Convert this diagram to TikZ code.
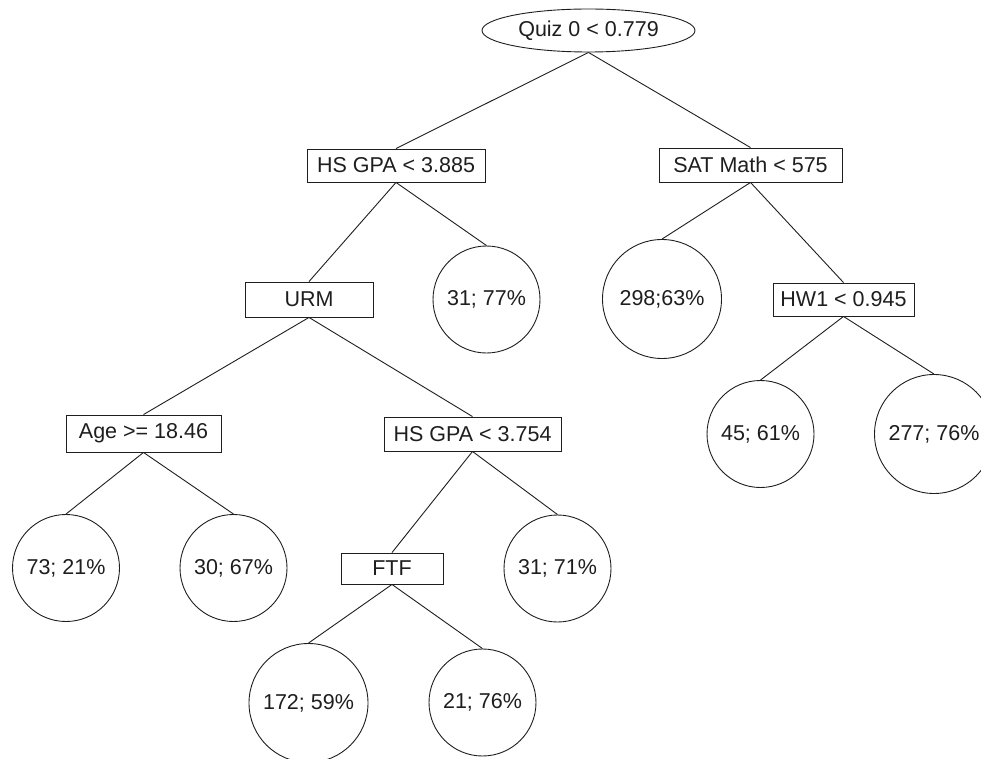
\documentclass[tikz,border=0pt]{standalone}
\usepackage{fontspec}
\setmainfont{Liberation Sans}
\usetikzlibrary{shapes.geometric}
\definecolor{ink}{RGB}{30,30,30}
\begin{document}
\begin{tikzpicture}[x=1pt,y=-1pt,
  every node/.style={font=\fontsize{21.5}{24}\selectfont, text=ink, inner sep=0pt},
  box/.style={draw=ink, line width=0.9pt, rectangle},
  leaf/.style={draw=ink, line width=0.9pt, circle, minimum size=107pt},
  bigleaf/.style={leaf, minimum size=119pt},
  edge/.style={draw=ink, line width=0.9pt}]
\useasboundingbox (0,0) rectangle (981,759);
\clip (0,0) rectangle (981,759);
\node[draw=ink, line width=0.9pt, ellipse, minimum width=213pt, minimum height=43pt] (root) at (588.5,30.5) {Quiz 0 < 0.779};
\node[box, minimum width=178pt, minimum height=33pt] (hs1) at (396,165.5) {HS GPA < 3.885};
\node[box, minimum width=183pt, minimum height=34pt] (sat) at (750.5,165) {SAT Math < 575};
\node[box, minimum width=128pt, minimum height=35pt] (urm) at (309,299.5) {URM};
\node[leaf] (l1) at (486.5,299.5) {31; 77\%};
\node[bigleaf] (l2) at (662,299) {298;63\%};
\node[box, minimum width=141pt, minimum height=33pt] (hw1) at (843.5,299.5) {HW1 < 0.945};
\node[box, minimum width=155pt, minimum height=37pt] (age) at (143.5,433.5) {Age >= 18.46};
\node[box, minimum width=177pt, minimum height=34pt] (hs2) at (472.5,434) {HS GPA < 3.754};
\node[leaf] (l3) at (760.5,434) {45; 61\%};
\node[bigleaf] (l4) at (934,434) {277; 76\%};
\node[leaf] (l5) at (66,568) {73; 21\%};
\node[leaf] (l6) at (233.5,568) {30; 67\%};
\node[box, minimum width=102pt, minimum height=31pt] (ftf) at (392,568.5) {FTF};
\node[leaf] (l7) at (557.5,568.5) {31; 71\%};
\node[bigleaf] (l8) at (308.5,703) {172; 59\%};
\node[leaf] (l9) at (482.5,702.5) {21; 76\%};
\draw[edge] (root.south) -- (hs1.north);
\draw[edge] (root.south) -- (sat.north);
\draw[edge] (hs1.south) -- (urm.north);
\draw[edge] (hs1.south) -- (l1.north);
\draw[edge] (sat.south) -- (l2.north);
\draw[edge] (sat.south) -- (hw1.north);
\draw[edge] (hw1.south) -- (l3.north);
\draw[edge] (hw1.south) -- (l4.north);
\draw[edge] (urm.south) -- (age.north);
\draw[edge] (urm.south) -- (hs2.north);
\draw[edge] (age.south) -- (l5.north);
\draw[edge] (age.south) -- (l6.north);
\draw[edge] (hs2.south) -- (ftf.north);
\draw[edge] (hs2.south) -- (l7.north);
\draw[edge] (ftf.south) -- (l8.north);
\draw[edge] (ftf.south) -- (l9.north);
\end{tikzpicture}
\end{document}
